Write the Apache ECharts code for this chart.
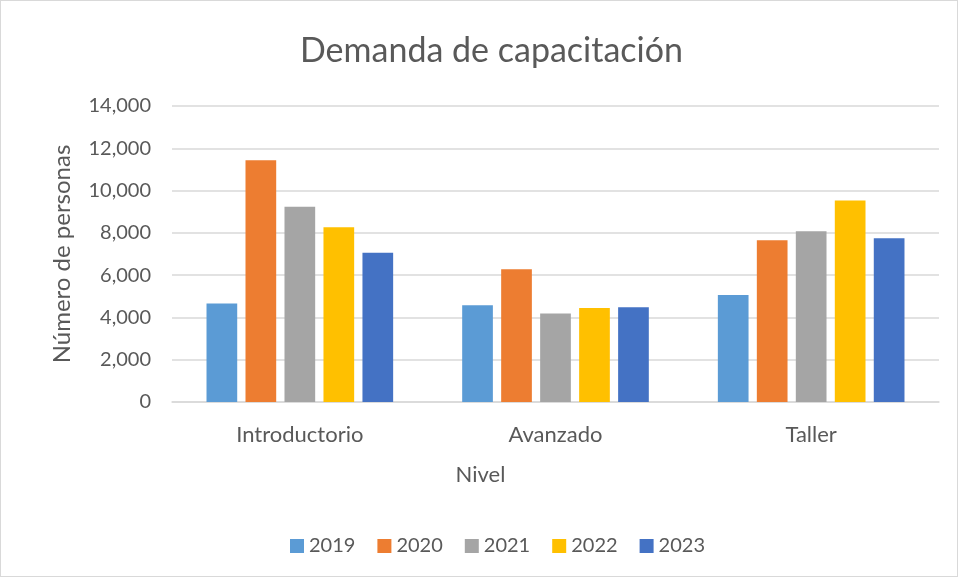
<!DOCTYPE html>
<html><head><meta charset="utf-8">
<script src="https://cdn.jsdelivr.net/npm/echarts@6/dist/echarts.min.js"></script>
<style>html,body{margin:0;padding:0;background:#fff}#c{width:958px;height:577px;box-sizing:border-box;border:1px solid #d9d9d9}</style>
</head><body><div id="c"></div>
<script>
const categories = ['Introductorio', 'Avanzado', 'Taller'];
const years = ['2019', '2020', '2021', '2022', '2023'];
const v2019 = [4660, 4580, 5060];
const v2020 = [11440, 6280, 7650];
const v2021 = [9240, 4190, 8080];
const v2022 = [8260, 4450, 9530];
const v2023 = [7060, 4480, 7750];
const seriesValues = [v2019, v2020, v2021, v2022, v2023];
const colors = ['#5B9BD5', '#ED7D31', '#A5A5A5', '#FFC000', '#4472C4'];
const FONT = 'Lato, "Open Sans", sans-serif';
const chart = echarts.init(document.getElementById('c'));
chart.setOption({
  animation: false,
  color: colors,
  textStyle: { fontFamily: FONT },
  title: { text: 'Demanda de capacitación', left: 294, top: 28,
    textStyle: { fontFamily: FONT, fontSize: 34, fontWeight: 'normal', color: '#595959' } },
  legend: { bottom: 15, left: 284, itemWidth: 14, itemHeight: 14, itemGap: 22, icon: 'rect',
    textStyle: { fontFamily: FONT, fontSize: 20, color: '#595959' }, data: years },
  grid: { left: 171, right: 18, top: 105, bottom: 174 },
  xAxis: { type: 'category', data: categories,
    name: 'Nivel', nameLocation: 'middle', nameGap: 62,
    nameTextStyle: { fontFamily: FONT, fontSize: 22, color: '#595959', padding: [0, 150, 0, 0] },
    axisLine: { lineStyle: { color: '#d9d9d9', width: 1.5 } }, axisTick: { show: false },
    axisLabel: { fontFamily: FONT, fontSize: 22, color: '#595959', margin: 22 } },
  yAxis: { type: 'value', min: 0, max: 14000, interval: 2000,
    name: 'Número de personas', nameLocation: 'middle', nameGap: 98, nameRotate: 90,
    nameTextStyle: { fontFamily: FONT, fontSize: 24, color: '#595959' },
    axisLine: { show: false }, axisTick: { show: false },
    splitLine: { lineStyle: { color: '#d9d9d9', width: 1.5 } },
    axisLabel: { fontFamily: FONT, fontSize: 20, color: '#595959', margin: 21,
      formatter: v => v.toLocaleString('en-US') } },
  series: years.map((y, i) => ({ name: y, type: 'bar', data: seriesValues[i],
    barGap: '27%', barCategoryGap: '27%' }))
});
</script></body></html>
